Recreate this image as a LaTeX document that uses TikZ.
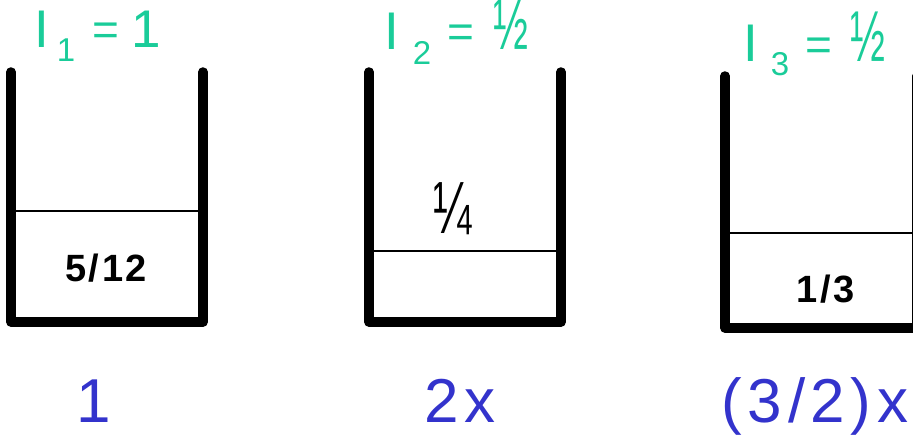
\documentclass[tikz,border=0pt]{standalone}
\usepackage{fontspec}
\setmainfont{Liberation Sans}
\newfontfamily\spacedfont[LetterSpace=9]{Liberation Sans}
\newfontfamily\amountfont[LetterSpace=7]{Liberation Sans}
\definecolor{lblgreen}{RGB}{26,204,153}
\definecolor{lblblue}{RGB}{51,51,204}
\begin{document}
\begin{tikzpicture}[x=1pt,y=-1pt,
  wall/.style={line width=9.5pt,line cap=round,line join=round},
  level/.style={line width=1.8pt},
  gbig/.style={text=lblgreen,inner sep=0pt,anchor=base,font=\fontsize{53}{60}\selectfont},
  geq/.style={text=lblgreen,inner sep=0pt,anchor=base,font=\fontsize{46}{52}\selectfont},
  gsub/.style={text=lblgreen,inner sep=0pt,anchor=base,font=\fontsize{33}{38}\selectfont},
  ghalf/.style={text=lblgreen,inner sep=0pt,anchor=base,font=\fontsize{53}{60}\selectfont},
  amount/.style={inner sep=0pt,font=\amountfont\bfseries\fontsize{38}{42}\selectfont},
  frac/.style={inner sep=0pt,font=\fontsize{74}{80}\selectfont},
  bottomlbl/.style={text=lblblue,inner sep=0pt,anchor=base,font=\spacedfont\fontsize{62}{70}\selectfont}]
\useasboundingbox (0,0) rectangle (913,436);

% container 1
\draw[level] (11,211) -- (203,211);
\draw[wall] (11,72) -- (11,322) -- (203,322) -- (203,72);
\node[amount] (f1) at (106,268) {5/12};

% container 2
\draw[level] (369,251) -- (561,251);
\draw[wall] (369,72) -- (369,322) -- (561,322) -- (561,72);
\node[frac,anchor=base] (f2) at (453,233) {\scalebox{0.62}[1]{¼}};

% container 3
\draw[level] (725,233) -- (917,233);
\draw[wall] (725,76) -- (725,328) -- (917,328) -- (917,76);
\node[amount] (f3) at (826,289) {1/3};

% green labels
\node[gbig] (i1) at (42,48) {I};
\node[gsub] (s1) at (66,62) {1};
\node[geq] (e1) at (106,46) {=};
\node[gbig] (v1) at (146,48) {1};

\node[gbig] (i2) at (392,50) {I};
\node[gsub] (s2) at (422,64) {2};
\node[geq] (e2) at (461,48) {=};
\node[ghalf] (v2) at (511,50) {\scalebox{0.79}[1.36]{½}};

\node[gbig] (i3) at (751,62) {I};
\node[gsub] (s3) at (780,75) {3};
\node[geq] (e3) at (819,60) {=};
\node[ghalf] (v3) at (868,62) {\scalebox{0.79}[1.36]{½}};

% bottom labels
\node[bottomlbl] (b1) at (94,422) {1};
\node[bottomlbl] (b2) at (460,422) {2x};
\node[bottomlbl] (b3) at (815,422) {(3/2)x};
\end{tikzpicture}
\end{document}
